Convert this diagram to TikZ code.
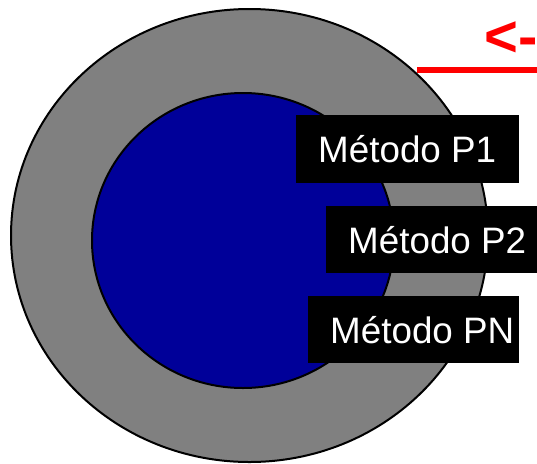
\documentclass[tikz,border=0pt]{standalone}
\usepackage{fontspec}
\setmainfont{Liberation Sans}
\usetikzlibrary{shapes.geometric}
\definecolor{innerblue}{RGB}{0,0,153}
\definecolor{ringgray}{RGB}{128,128,128}
\begin{document}
\begin{tikzpicture}[x=1pt,y=-1pt,
  ring/.style={draw=black, line width=2pt},
  metbox/.style={fill=black, text=white, font=\fontsize{36.8}{40}\selectfont, anchor=north west, inner xsep=22pt, inner ysep=0pt}]
\useasboundingbox (0,0) rectangle (537,463);
\begin{scope}
\clip (0,0) rectangle (537,463);
\node[ring, fill=ringgray, ellipse, inner sep=0, minimum width=477pt, minimum height=453pt] (outer) at (249.5,235.5) {};
\node[ring, fill=innerblue, ellipse, inner sep=0, minimum width=302pt, minimum height=295pt] (inner) at (243,240.5) {};
\node[metbox, minimum height=68pt] (p1) at (296,115) {\makebox[179pt][l]{Método P1}};
\node[metbox, minimum height=67pt] (p2) at (326,206) {\makebox[178pt][l]{Método P2}};
\node[metbox, minimum height=67pt] (pn) at (308,296) {\makebox[167pt][l]{Método PN}};
\node[font=\bfseries\fontsize{58}{60}\selectfont, text=red, anchor=base west, inner sep=0] (arr) at (484,56) {<-};
\coordinate (ls) at (417,70);
\coordinate (le) at (540,70);
\draw[red, line width=6pt] (ls) -- (le);
\end{scope}
\end{tikzpicture}
\end{document}
